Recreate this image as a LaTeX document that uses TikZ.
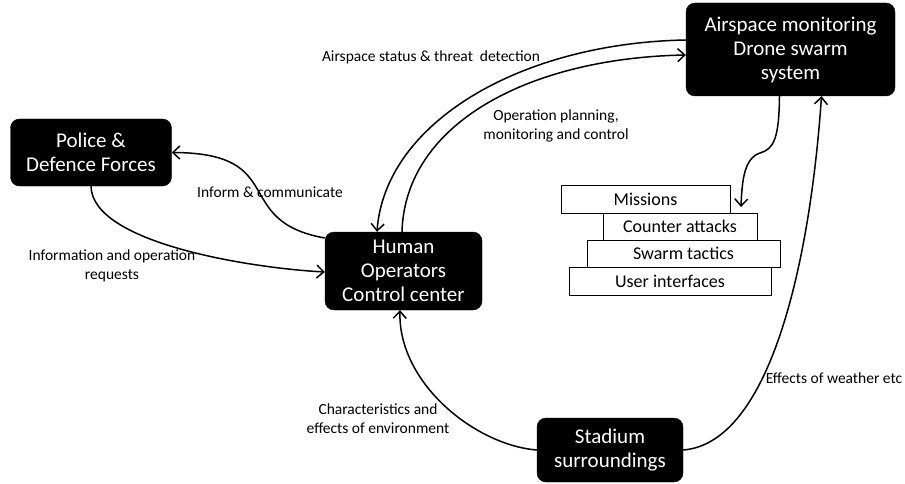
\documentclass[tikz,border=0pt]{standalone}
\usepackage{fontspec}
\setmainfont{Carlito}
\usetikzlibrary{arrows.meta}
\begin{document}
\begin{tikzpicture}[x=1pt,y=1pt,
  blackbox/.style={draw=black,fill=black,text=white,rounded corners=9pt,
    align=center,inner sep=0pt,font=\fontsize{21}{24}\selectfont},
  layerbox/.style={draw=black,line width=0.9pt,fill=white,inner sep=0pt,
    font=\fontsize{18}{20}\selectfont},
  flow/.style={line width=1.5pt,-{Straight Barb[length=7pt,width=13pt,line width=1.5pt]}},
  lbl/.style={align=center,inner sep=0pt,font=\fontsize{15.5}{19}\selectfont}]
\useasboundingbox (0,0) rectangle (905,483);

% main actors
\node[blackbox,minimum width=161pt,minimum height=67pt] (police) at (91,330.5) {Police \&\\Defence Forces};
\node[blackbox,minimum width=157pt,minimum height=78pt] (human) at (403.5,212) {Human\\Operators\\Control center};
\node[blackbox,minimum width=209pt,minimum height=93pt] (air) at (790.5,433.5) {Airspace monitoring\\Drone swarm\\system};
\node[blackbox,minimum width=146pt,minimum height=64pt] (stadium) at (610,33) {Stadium\\surroundings};

% stacked layers of the drone swarm system
\node[layerbox,minimum width=169pt,minimum height=28pt] (missions) at (645.5,284) {Missions};
\node[layerbox,minimum width=154pt,minimum height=27pt] (counter) at (680,256.5) {Counter attacks};
\node[layerbox,minimum width=193pt,minimum height=27pt] (swarm) at (683.5,229.5) {Swarm tactics};
\node[layerbox,minimum width=202pt,minimum height=28pt] (ui) at (670,202) {User interfaces};

% anchor points on the boxes
\coordinate (policeB) at (police.south);
\coordinate (humanL1) at ([yshift=33pt]human.west);
\coordinate (humanL2) at ([yshift=-1pt]human.west);
\coordinate (humanT1) at ([xshift=-26.5pt]human.north);
\coordinate (humanT2) at ([xshift=-1.5pt]human.north);
\coordinate (humanB) at ([xshift=-3.5pt]human.south);
\coordinate (airL1) at ([yshift=9.5pt]air.west);
\coordinate (airL2) at ([yshift=-5.5pt]air.west);
\coordinate (airB1) at ([xshift=-11pt]air.south);
\coordinate (airB2) at ([xshift=31pt]air.south);
\coordinate (kink) at (760,330);
\coordinate (missionsR) at ([xshift=95.5pt,yshift=-8pt]missions.center);

% connectors
\draw[flow] (policeB) .. controls (92,240) and (250,215) .. (humanL2);
\draw[flow] (humanL1) .. controls (230,262) and (290,330) .. (police.east);
\draw[flow] (airL1) .. controls (520,440) and (385,360) .. (humanT1);
\draw[flow] (humanT2) .. controls (405,360) and (530,425) .. (airL2);
\draw[flow] (airB1) .. controls (779,345) and (774,334) .. (kink)
  .. controls (745,325) and (742,305) .. (missionsR);
\draw[flow] (stadium.east) .. controls (770,40) and (810,220) .. (airB2);
\draw[flow] (stadium.west) .. controls (475,38) and (398,100) .. (humanB);

% connector labels
\node[lbl] (tstatus) at (431,426) {Airspace status \& threat\ \ detection};
\node[lbl] (tplan) at (556,357) {Operation planning,\\monitoring and control};
\node[lbl] (tinform) at (270,291) {Inform \& communicate};
\node[lbl] (treq) at (112,217) {Information and operation\\requests};
\node[lbl] (tenv) at (378,64) {Characteristics and\\effects of environment};
\node[lbl] (tweather) at (834,105) {Effects of weather etc};
\end{tikzpicture}
\end{document}
